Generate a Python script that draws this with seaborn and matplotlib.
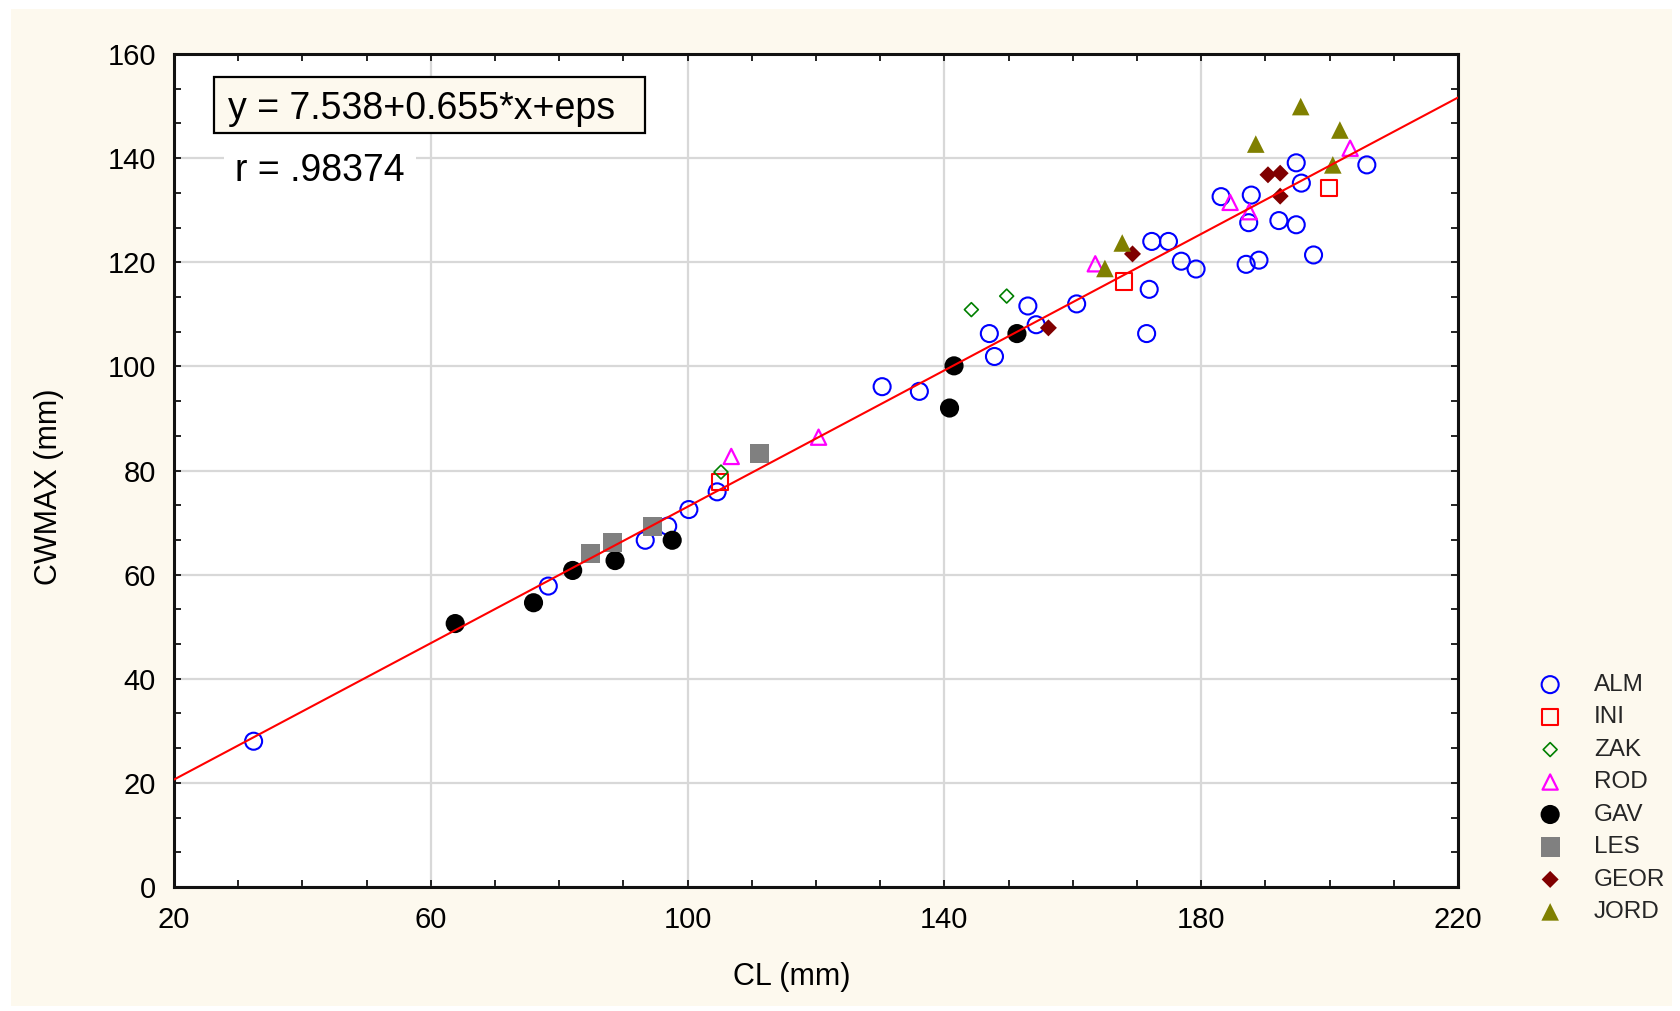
import numpy as np
import pandas as pd
import matplotlib
matplotlib.use("Agg")
import matplotlib.pyplot as plt
from matplotlib.patches import Rectangle
import seaborn as sns

# ---------------- data ----------------
groups = ["ALM", "INI", "ZAK", "ROD", "GAV", "LES", "GEOR", "JORD"]

alm_x = [32.4, 78.3, 93.4, 96.9, 100.2, 104.6, 130.3, 136.1, 147.0, 147.8, 153.0, 154.3,
         160.6, 171.9, 171.5, 172.3, 174.9, 176.9, 179.2, 183.1, 187.8, 187.4, 192.1,
         194.8, 197.5, 189.0, 187.0, 194.8, 195.6, 205.8]
alm_y = [28.0, 57.8, 66.6, 69.3, 72.5, 75.9, 96.1, 95.2, 106.3, 101.9, 111.6, 108.0,
         112.0, 114.8, 106.3, 124.0, 124.0, 120.2, 118.7, 132.6, 132.9, 127.6, 128.0,
         127.2, 121.4, 120.4, 119.6, 139.1, 135.2, 138.7]
ini_x = [105.0, 168.0, 199.9]
ini_y = [77.8, 116.3, 134.2]
zak_x = [105.2, 144.2, 149.7]
zak_y = [79.7, 110.9, 113.5]
rod_x = [106.8, 120.4, 163.5, 184.5, 187.5, 203.2]
rod_y = [82.7, 86.4, 119.7, 131.5, 129.7, 141.9]
gav_x = [63.8, 76.0, 82.1, 88.7, 97.6, 140.8, 141.5, 151.3]
gav_y = [50.6, 54.6, 60.8, 62.7, 66.6, 92.0, 100.1, 106.3]
les_x = [84.9, 88.3, 94.5, 111.2]
les_y = [64.0, 66.2, 69.2, 83.2]
geor_x = [156.2, 169.3, 190.4, 192.3, 192.3]
geor_y = [107.4, 121.6, 136.8, 137.1, 132.7]
jord_x = [165.0, 167.7, 188.5, 195.5, 200.5, 201.6]
jord_y = [118.8, 123.7, 142.7, 149.9, 138.7, 145.4]

intercept = 7.538
slope = 0.655
eq_text = "y = 7.538+0.655*x+eps"
r_text = "r = .98374"

x_ticks = [20, 60, 100, 140, 180, 220]
y_ticks = [0, 20, 40, 60, 80, 100, 120, 140, 160]
x_label = "CL (mm)"
y_label = "CWMAX (mm)"

data = {
    "ALM": (alm_x, alm_y), "INI": (ini_x, ini_y), "ZAK": (zak_x, zak_y),
    "ROD": (rod_x, rod_y), "GAV": (gav_x, gav_y), "LES": (les_x, les_y),
    "GEOR": (geor_x, geor_y), "JORD": (jord_x, jord_y),
}

# ---------------- styles ----------------
CREAM = "#FDF9EE"
styles = {
    "ALM":  dict(marker="o", color="#0000FF", filled=False, s=150, lw=1.5),
    "INI":  dict(marker="s", color="#FF0000", filled=False, s=135, lw=1.5),
    "ZAK":  dict(marker="D", color="#008000", filled=False, s=50,  lw=1.2),
    "ROD":  dict(marker="^", color="#FF00FF", filled=False, s=120, lw=1.6),
    "GAV":  dict(marker="o", color="#000000", filled=True,  s=190, lw=0),
    "LES":  dict(marker="s", color="#808080", filled=True,  s=190, lw=0),
    "GEOR": dict(marker="D", color="#800000", filled=True,  s=75,  lw=0),
    "JORD": dict(marker="^", color="#808000", filled=True,  s=160, lw=0),
}

sns.set_theme(style="white")
plt.rcParams["font.family"] = ["Liberation Sans", "DejaVu Sans"]

W, H = 1681, 1011
fig = plt.figure(figsize=(W / 100, H / 100), dpi=100, facecolor="white")
fig.patches.append(Rectangle((11 / W, 5 / H), (W - 20) / W, (H - 14) / H,
                             transform=fig.transFigure, fc=CREAM, ec="none", zorder=-10))
ax = fig.add_axes([174 / W, 1 - 887 / H, 1284 / W, 833 / H])
ax.set_facecolor("white")

for g in groups:
    st = styles[g]
    xs, ys = data[g]
    df = pd.DataFrame({"CL": xs, "CWMAX": ys})
    if st["filled"]:
        sns.scatterplot(data=df, x="CL", y="CWMAX", ax=ax, marker=st["marker"], s=st["s"],
                        color=st["color"], edgecolor="none", linewidth=0, label=g, zorder=3)
    else:
        sns.scatterplot(data=df, x="CL", y="CWMAX", ax=ax, marker=st["marker"], s=st["s"],
                        color=st["color"], facecolor="none", edgecolor=st["color"],
                        linewidth=st["lw"], label=g, zorder=3)

# regression line across the x range
line_x = np.array([x_ticks[0], x_ticks[-1]], dtype=float)
sns.lineplot(x=line_x, y=intercept + slope * line_x, ax=ax, color="#FF0000",
             linewidth=1.5, zorder=5, legend=False)

ax.set_xlim(x_ticks[0], x_ticks[-1])
ax.set_ylim(y_ticks[0], y_ticks[-1])
ax.set_xticks(x_ticks)
ax.set_xticklabels([str(t) for t in x_ticks])
ax.set_yticks(y_ticks)
ax.set_yticklabels([str(t) for t in y_ticks])
ax.set_xticks(np.arange(x_ticks[0], x_ticks[-1] + 1, 10), minor=True)
ax.set_yticks(np.arange(0, 160.01, 20 / 3), minor=True)

ax.set_axisbelow(True)
ax.grid(True, which="major", color="#D8D8D8", linewidth=1.6)
ax.grid(False, which="minor")

for sp in ax.spines.values():
    sp.set_color("#111111")
    sp.set_linewidth(2.2)
    sp.set_visible(True)

ax.tick_params(which="both", direction="in", top=True, right=True, bottom=True, left=True,
               color="#111111", width=1.3)
ax.tick_params(which="major", length=5, labelsize=21, labelcolor="black")
ax.tick_params(which="minor", length=5)
ax.tick_params(axis="x", which="major", pad=14)
ax.tick_params(axis="y", which="major", pad=13)

ax.set_xlabel(x_label, fontsize=22, color="black")
ax.set_ylabel(y_label, fontsize=22, color="black")
ax.xaxis.set_label_coords(0.481, -0.108)
ax.yaxis.set_label_coords(-0.097, 0.481)
ax.xaxis.label.set_va("center")
ax.yaxis.label.set_va("center")

# equation box
ax.add_patch(Rectangle((0.0312, 0.9052), 0.3356, 0.0672, transform=ax.transAxes,
                       fc=CREAM, ec="black", lw=1.6, zorder=6))
ax.text(0.0421, 0.9345, eq_text, transform=ax.transAxes, fontsize=27,
        ha="left", va="center", zorder=7, color="black")
ax.text(0.0475, 0.860, r_text, transform=ax.transAxes, fontsize=27,
        ha="left", va="center", zorder=5.5, color="black",
        bbox=dict(boxstyle="square,pad=0.3", fc="white", ec="none"))

handles, labels = ax.get_legend_handles_labels()
ax.legend(handles, labels, loc="upper left", bbox_to_anchor=(1538 / W, 1 - 674 / H),
          bbox_transform=fig.transFigure, frameon=False, fontsize=17.5,
          handlelength=1.0, handletextpad=1.3, labelspacing=0.43, borderpad=0,
          borderaxespad=0, scatterpoints=1)

fig.savefig("out.png", dpi=100, facecolor=fig.get_facecolor())
